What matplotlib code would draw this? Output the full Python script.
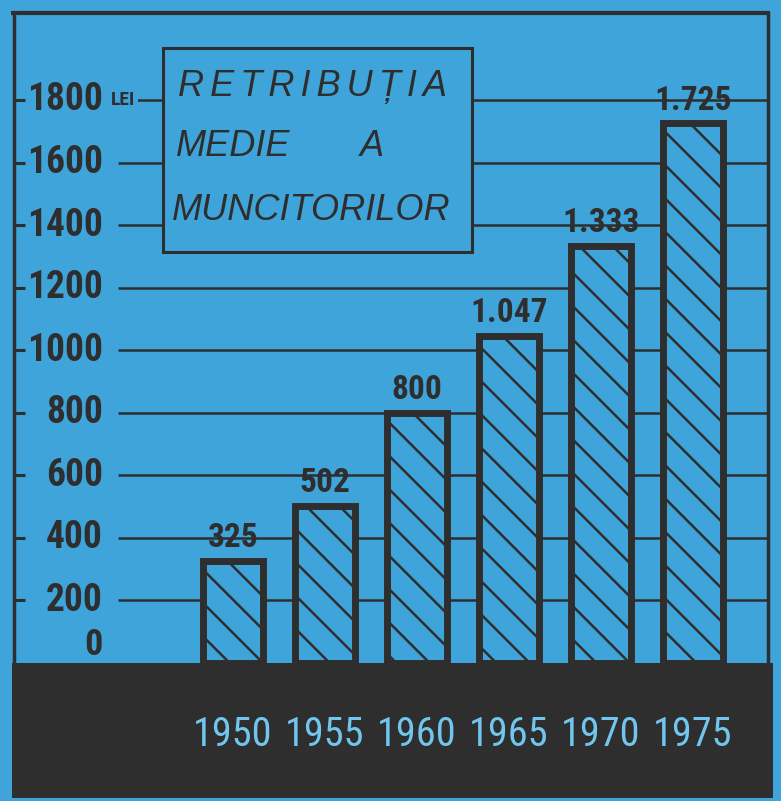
#!/usr/bin/env python
"""Retributia medie a muncitorilor, 1950-1975 (lei)."""
import numpy as np
import matplotlib.pyplot as plt
from matplotlib.patches import Rectangle

years = ['1950', '1955', '1960', '1965', '1970', '1975']
wages = [325, 502, 800, 1047, 1333, 1725]
wage_labels = ['325', '502', '800', '1.047', '1.333', '1.725']
yticks = [0, 200, 400, 600, 800, 1000, 1200, 1400, 1600, 1800]

BLUE = '#3ea4da'
DARK = '#2f2e2e'
YEAR_COL = '#70c6ec'
NARROW = ['Roboto Condensed', 'DejaVu Sans']
ITAL = ['Liberation Sans', 'DejaVu Sans']

plt.rcParams['hatch.linewidth'] = 1.8

W, H = 781, 801

def fx(px):
    return px / W

def fy(py):
    return 1 - py / H

fig = plt.figure(figsize=(W / 100, H / 100), dpi=100, facecolor=BLUE)
ax = fig.add_axes([0, 0, 1, 1])
ax.set_facecolor(BLUE)
ax.axis('off')

# 0 -> y=663px, 1800 -> y=100px ; bar centres 92px apart starting at 233px
scale = (663 - 100) / 1800
ax.set_ylim(-(H - 663) / scale, 663 / scale)
ax.set_xlim(-233 / 92, (W - 233) / 92)
x = np.arange(len(years))
ytr = ax.get_yaxis_transform()

# grid lines
ax.hlines(yticks[1:], fx(118), fx(768), transform=ytr, color=DARK, lw=1.8, zorder=1)
# small ticks on the left axis
ax.hlines(yticks[1:], fx(14), fx(25), transform=ytr, color=DARK, lw=2.2, zorder=2)

# frame
ax.plot([fx(11), fx(770)], [fy(13), fy(13)], transform=ax.transAxes, color=DARK, lw=3, solid_capstyle='butt', zorder=2)
ax.plot([fx(14), fx(14)], [fy(13), fy(663)], transform=ax.transAxes, color=DARK, lw=2.5, zorder=2)
ax.plot([fx(768), fx(768)], [fy(13), fy(663)], transform=ax.transAxes, color=DARK, lw=2.5, zorder=2)

# bars
bars = ax.bar(x, wages, width=0.66, color=BLUE, edgecolor=DARK, linewidth=5, hatch='\\', zorder=3)
for b in bars:
    b.set_joinstyle('miter')
for xi, v, lab in zip(x, wages, wage_labels):
    ax.annotate(lab, (xi, v), xytext=(0, 5), textcoords='offset points', ha='center', va='bottom',
                fontsize=24, fontweight='bold', family=NARROW, fontstretch='condensed',
                color=DARK, zorder=4)

# y labels
for t in yticks:
    if t == 0:
        ax.text(fx(103), t, '0', transform=ytr, ha='right', va='bottom', fontsize=26,
                fontweight='bold', family=NARROW, fontstretch='condensed', color=DARK, zorder=4)
    else:
        ax.text(fx(103), t, str(t), transform=ytr, ha='right', va='center', fontsize=27,
                fontweight='bold', family=NARROW, fontstretch='condensed', color=DARK, zorder=4)
ax.text(fx(111), 1800, 'LEI', transform=ytr, ha='left', va='center', fontsize=14,
        fontweight='bold', family=NARROW, fontstretch='condensed', color=DARK, zorder=4,
        bbox=dict(fc=BLUE, ec='none', pad=2))

# title box
ax.add_patch(Rectangle((fx(163), fy(252)), fx(472) - fx(163), fy(48) - fy(252), transform=ax.transAxes,
                       fc=BLUE, ec=DARK, lw=2.2, zorder=4))
title_kw = dict(transform=ax.transAxes, ha='left', va='center', fontsize=26, style='italic',
                family=ITAL, color=DARK, zorder=5)
ax.text(fx(178), fy(86), '\u200a\u200a'.join('RETRIBUȚIA'), **title_kw)
ax.text(fx(176), fy(146), 'MEDIE', **title_kw)
ax.text(fx(360), fy(146), 'A', **title_kw)
ax.text(fx(172), fy(210), 'MUNCITORILOR', **title_kw)

# dark ground band with years
ax.add_patch(Rectangle((fx(12), fy(798)), fx(773) - fx(12), fy(663) - fy(798), transform=ax.transAxes,
                       fc=DARK, ec='none', zorder=5))
for xi, yr in zip(x, years):
    ax.text(xi, fy(735), yr, transform=ax.get_xaxis_transform(), ha='center', va='center',
            fontsize=29, family=NARROW, fontstretch='condensed', color=YEAR_COL, zorder=6)

fig.savefig('out.png', dpi=100, facecolor=BLUE)
